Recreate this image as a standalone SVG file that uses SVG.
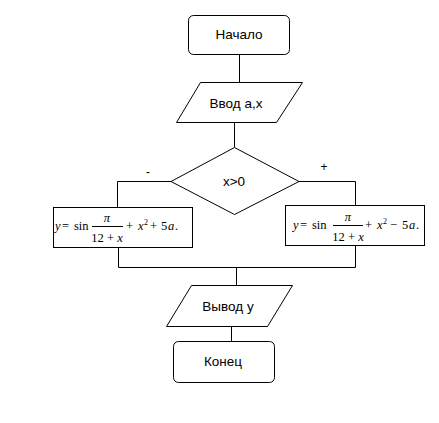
<svg xmlns="http://www.w3.org/2000/svg" width="439" height="423" viewBox="0 0 439 423">
<style>
.s{fill:#fff;stroke:#000;stroke-width:1}
.c{fill:none;stroke:#000;stroke-width:1}
.t{font-family:"Liberation Sans",Arial,sans-serif;font-size:13.5px;fill:#000;text-anchor:middle;dominant-baseline:central}
.f{font-family:"Liberation Serif","Times New Roman",serif;font-size:12.5px;fill:#000}
.m{text-anchor:middle}
.i{font-style:italic}
.p{font-size:8px}
.l{font-family:"Liberation Sans",Arial,sans-serif;font-size:12px;fill:#000;text-anchor:middle}
</style>
<rect width="439" height="423" fill="#fff"/>
<g id="connectors">
<path class="c" d="M239.5 54V82"/>
<path class="c" d="M234.5 122V147"/>
<path class="c" d="M171 181.5H117.5V207"/>
<path class="c" d="M299 181.5H355.5V205"/>
<path class="c" d="M118.5 247V267.5H355.5V246"/>
<path class="c" d="M236.5 267.5V285"/>
<path class="c" d="M231.5 326V341"/>
<text class="l" x="148" y="176">-</text>
<text class="l" x="324" y="171">+</text>
</g>
<g id="start">
<rect class="s" x="188.5" y="15.5" width="101" height="39" rx="5"/>
<text class="t" x="239" y="34">Начало</text>
</g>
<g id="input">
<polygon class="s" points="200.5,82.5 302.5,82.5 276.5,122.5 176.5,122.5"/>
<text class="t" x="236" y="103">Ввод а,х</text>
</g>
<g id="decision">
<polygon class="s" points="234.5,147.5 299,181.5 234.5,214.5 171,181.5"/>
<text class="t" x="234" y="181">x&gt;0</text>
</g>
<g id="left">
<rect class="s" x="53.5" y="207.5" width="139" height="40"/>
<text class="f" y="230"><tspan class="i" x="55">y</tspan><tspan x="62">=</tspan><tspan x="74">sin</tspan></text>
<line class="c" x1="92" y1="226.5" x2="123" y2="226.5"/>
<text class="f i m" x="107" y="222">π</text>
<text class="f m" x="107" y="242">12 + <tspan class="i">x</tspan></text>
<text class="f" y="230"><tspan x="126">+</tspan><tspan class="i" x="138">x</tspan><tspan class="p" x="144" dy="-5">2</tspan><tspan x="150" dy="5">+</tspan><tspan x="161">5</tspan><tspan class="i" x="168">a</tspan><tspan x="175">.</tspan></text>
</g>
<g id="right">
<rect class="s" x="285.5" y="205.5" width="139" height="40"/>
<text class="f" y="229"><tspan class="i" x="293">y</tspan><tspan x="300">=</tspan><tspan x="312">sin</tspan></text>
<line class="c" x1="333" y1="225.5" x2="363" y2="225.5"/>
<text class="f i m" x="348" y="221">π</text>
<text class="f m" x="348" y="241">12 + <tspan class="i">x</tspan></text>
<text class="f" y="229"><tspan x="365">+</tspan><tspan class="i" x="377">x</tspan><tspan class="p" x="383" dy="-5">2</tspan><tspan x="390" dy="5">−</tspan><tspan x="402">5</tspan><tspan class="i" x="409">a</tspan><tspan x="416">.</tspan></text>
</g>
<g id="output">
<polygon class="s" points="191.5,285.5 292.5,285.5 267.5,326.5 166.5,326.5"/>
<text class="t" x="228" y="306">Вывод у</text>
</g>
<g id="end">
<rect class="s" x="173.5" y="341.5" width="101" height="41" rx="5"/>
<text class="t" x="223" y="361">Конец</text>
</g>
</svg>
